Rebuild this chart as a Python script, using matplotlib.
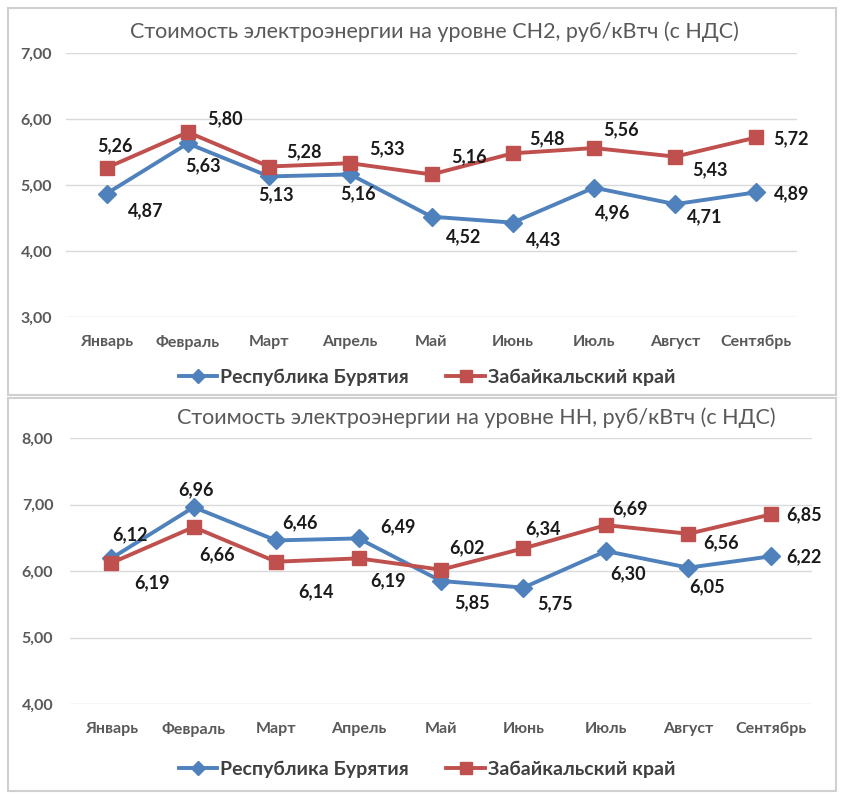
import matplotlib
matplotlib.use("Agg")
import matplotlib.pyplot as plt
from matplotlib.patches import Rectangle
from matplotlib.lines import Line2D

plt.rcParams['font.family'] = ['Lato', 'DejaVu Sans']

months = ["Январь", "Февраль", "Март", "Апрель", "Май", "Июнь", "Июль", "Август", "Сентябрь"]
series_names = ["Республика Бурятия", "Забайкальский край"]

title_top = "Стоимость электроэнергии на уровне СН2, руб/кВтч (с НДС)"
buryatia_sn2 = [4.87, 5.63, 5.13, 5.16, 4.52, 4.43, 4.96, 4.71, 4.89]
zabaikal_sn2 = [5.26, 5.80, 5.28, 5.33, 5.16, 5.48, 5.56, 5.43, 5.72]
yticks_top = [3, 4, 5, 6, 7]

title_bot = "Стоимость электроэнергии на уровне НН, руб/кВтч (с НДС)"
buryatia_nn = [6.19, 6.96, 6.46, 6.49, 5.85, 5.75, 6.30, 6.05, 6.22]
zabaikal_nn = [6.12, 6.66, 6.14, 6.19, 6.02, 6.34, 6.69, 6.56, 6.85]
yticks_bot = [4, 5, 6, 7, 8]

BLUE = "#4F81BD"
RED = "#C0504D"
GRID = "#D9D9D9"
TXT = "#595959"

W, H = 841, 799
fig = plt.figure(figsize=(W / 100, H / 100), dpi=100)

def fy(py):
    return 1 - py / H

def fx(px):
    return px / W

# panel borders
for (y0, y1) in [(8, 395), (398, 791)]:
    fig.patches.append(Rectangle((fx(8), fy(y1)), fx(828), (y1 - y0) / H,
                                 transform=fig.transFigure, fill=False,
                                 edgecolor="#D0D0D0", linewidth=1.5))

# label offsets (pixels, x right, y down) for each point
off_top_b = [(39, 17), (15, 22), (7, 18), (8, 19), (32, 20), (31, 17), (19, 25), (30, 13), (35, 1)]
off_top_r = [(8, -22), (37, -13), (35, -15), (37, -14), (37, -18), (34, -15), (27, -18), (35, 13), (35, 1)]
off_bot_b = [(41, 24), (2, -17), (24, -18), (39, -12), (31, 22), (32, 16), (22, 23), (19, 19), (33, 0)]
off_bot_r = [(19, -28), (23, 28), (40, 30), (29, 22), (26, -22), (20, -20), (24, -16), (33, 9), (33, 0)]

def draw(left, right, top_px, bot_px, ymin, ymax, yticks, ypad, title, title_px, title_py,
         b, r, ob, orr, leg_py):
    ax = fig.add_axes([fx(left), fy(bot_px), (right - left) / W, (bot_px - top_px) / H])
    x = list(range(len(months)))
    ax.plot(x, b, color=BLUE, lw=2.8, marker="D", ms=9, mfc=BLUE, mec=BLUE, zorder=3)
    ax.plot(x, r, color=RED, lw=2.8, marker="s", ms=9.5, mfc=RED, mec=RED, zorder=4)
    ax.set_xlim(-0.5, len(months) - 0.5)
    ax.set_ylim(ymin, ymax)
    ax.set_yticks(yticks)
    ax.set_yticklabels([f"{v:.2f}".replace(".", ",") for v in yticks])
    ax.set_xticks(x)
    ax.set_xticklabels(months)
    for s in ax.spines.values():
        s.set_visible(False)
    ax.grid(axis="y", color=GRID, lw=1)
    ax.set_axisbelow(True)
    ax.tick_params(axis="both", length=0, labelsize=11.5, labelcolor=TXT)
    ax.tick_params(axis="y", pad=ypad)
    ax.tick_params(axis="x", pad=13)
    for lab in ax.get_xticklabels() + ax.get_yticklabels():
        lab.set_fontweight("bold")
    for vals, offs in [(b, ob), (r, orr)]:
        for i, v in enumerate(vals):
            dx, dy = offs[i]
            ax.annotate(f"{v:.2f}".replace(".", ","), (i, v), xytext=(dx, -dy),
                        textcoords="offset pixels", ha="center", va="center",
                        fontsize=13, fontweight="bold", color="#1a1a1a", zorder=5)
    fig.text(fx(title_px), fy(title_py), title, ha="center", va="center",
             fontsize=15.5, color=TXT)
    handles = [Line2D([], [], color=BLUE, lw=2.8, marker="D", ms=7.5),
               Line2D([], [], color=RED, lw=2.8, marker="s", ms=8.5)]
    fig.legend(handles, series_names, loc="center", bbox_to_anchor=(fx(427), fy(leg_py)),
               ncol=2, frameon=False, prop={"weight": "bold", "size": 14},
               labelcolor="#404040", handlelength=2.0, columnspacing=1.9, handletextpad=0.15)
    return ax

draw(66, 797, 53, 317, 3, 7, yticks_top, 10, title_top, 434, 32, buryatia_sn2, zabaikal_sn2,
     off_top_b, off_top_r, 377)
draw(70, 812, 438, 704, 4, 8, yticks_bot, 12, title_bot, 476, 418, buryatia_nn, zabaikal_nn,
     off_bot_b, off_bot_r, 769)

fig.savefig("out.png", dpi=100, facecolor="white")
